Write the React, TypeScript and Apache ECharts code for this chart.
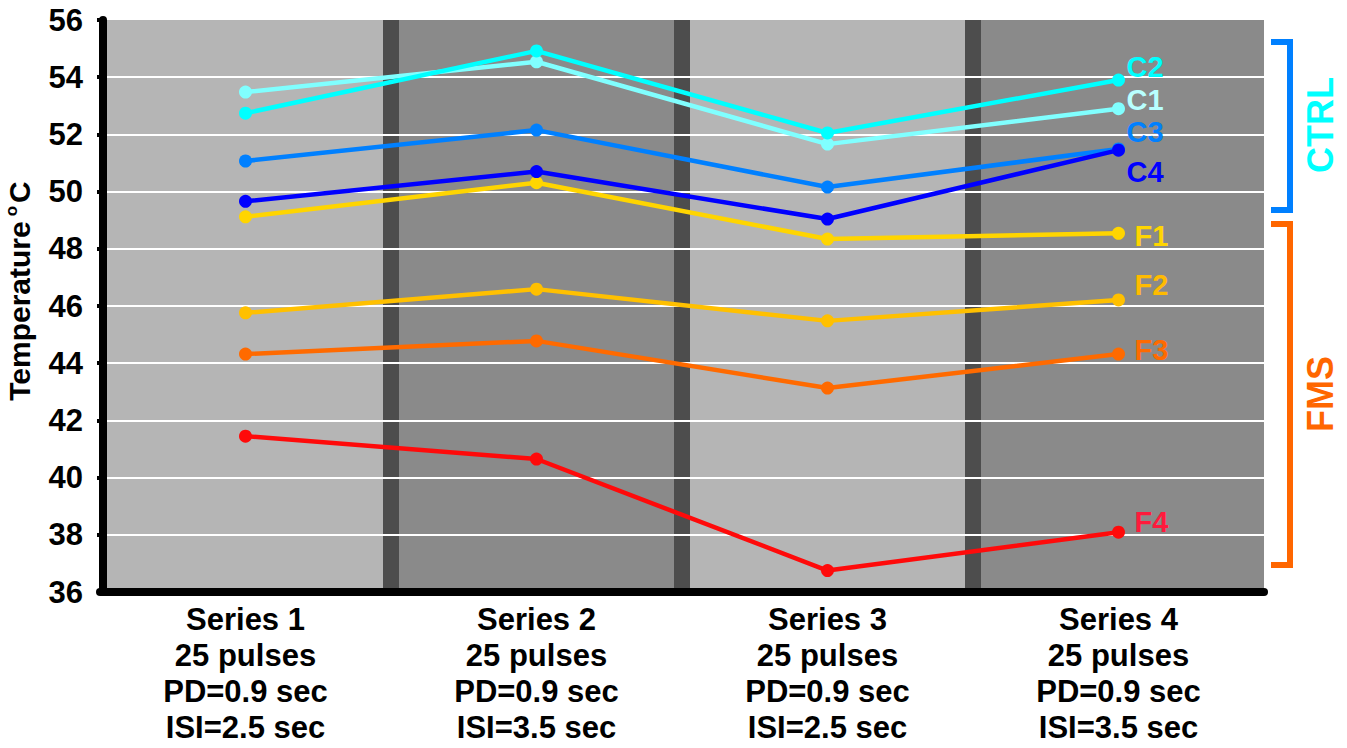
import React, { useEffect, useRef } from "react";
import * as echarts from "echarts";

const seriesTitles = ["Series 1", "Series 2", "Series 3", "Series 4"];
const pulseLabels = ["25 pulses", "25 pulses", "25 pulses", "25 pulses"];
const pdLabels = ["PD=0.9 sec", "PD=0.9 sec", "PD=0.9 sec", "PD=0.9 sec"];
const isiLabels = ["ISI=2.5 sec", "ISI=3.5 sec", "ISI=2.5 sec", "ISI=3.5 sec"];

const yTicks = { min: 36, max: 56, interval: 2 };

const C1 = [53.48, 54.54, 51.66, 52.9];
const C2 = [52.74, 54.92, 52.05, 53.9];
const C3 = [51.07, 52.15, 50.16, 51.49];
const C4 = [49.66, 50.7, 49.04, 51.45];
const F1 = [49.12, 50.31, 48.34, 48.54];
const F2 = [45.76, 46.59, 45.48, 46.21];
const F3 = [44.32, 44.78, 43.13, 44.32];
const F4 = [41.45, 40.65, 36.75, 38.09];

const FONT = "'Liberation Sans', Arial, sans-serif";

type Def = { name: string; data: number[]; color: string; labelColor: string; offset: [number, number] };

const defs: Def[] = [
  { name: "F4", data: F4, color: "#ff0a0a", labelColor: "#ff1a3c", offset: [8, -10] },
  { name: "F3", data: F3, color: "#ff6a00", labelColor: "#ff6a00", offset: [8, -4] },
  { name: "F2", data: F2, color: "#ffc000", labelColor: "#ffbb00", offset: [8, -15] },
  { name: "F1", data: F1, color: "#ffd500", labelColor: "#ffd500", offset: [8, 3] },
  { name: "C1", data: C1, color: "#80ffff", labelColor: "#b8ffff", offset: [0, -9] },
  { name: "C2", data: C2, color: "#00ffff", labelColor: "#00ffff", offset: [0, -13] },
  { name: "C3", data: C3, color: "#0080ff", labelColor: "#0080ff", offset: [0, -17] },
  { name: "C4", data: C4, color: "#0000ff", labelColor: "#0000ff", offset: [0, 22] },
];

export default function App() {
  const ref = useRef<HTMLDivElement>(null);

  useEffect(() => {
    if (!ref.current) return;
    const chart = echarts.init(ref.current, undefined, { renderer: "svg" });
    const categories = seriesTitles.map(
      (t, i) => `${t}\n${pulseLabels[i]}\n${pdLabels[i]}\n${isiLabels[i]}`
    );
    chart.setOption({
      animation: false,
      backgroundColor: "#ffffff",
      grid: { left: 100, right: 83, top: 20, bottom: 156, outerBoundsMode: "none" },
      xAxis: {
        type: "category",
        data: categories,
        boundaryGap: true,
        z: 0,
        axisLine: { show: true, onZero: false, lineStyle: { color: "#000", width: 8 } },
        axisTick: { show: false },
        axisLabel: {
          interval: 0,
          color: "#000",
          fontSize: 31,
          fontWeight: "bold",
          fontFamily: FONT,
          lineHeight: 36,
          margin: 9,
        },
        splitArea: { show: true, interval: 0, areaStyle: { color: ["#b5b5b5", "#8a8a8a"] } },
        splitLine: {
          show: true,
          interval: 0,
          showMinLine: false,
          showMaxLine: false,
          lineStyle: { color: "#4d4d4d", width: 16 },
        },
      },
      yAxis: {
        type: "value",
        min: yTicks.min,
        max: yTicks.max,
        interval: yTicks.interval,
        z: 1,
        offset: -3,
        name: "Temperature{sup|o}C",
        nameLocation: "middle",
        nameGap: 68,
        nameRotate: 90,
        nameTextStyle: {
          color: "#000",
          fontSize: 30,
          fontWeight: "bold",
          fontFamily: FONT,
          lineHeight: 32,
          padding: [0, 0, 0, 30],
          rich: {
            sup: {
              fontSize: 17,
              fontWeight: "bold",
              fontFamily: FONT,
              color: "#000",
              verticalAlign: "top",
              lineHeight: 32,
              padding: [0, 3, 0, 5],
            },
          },
        },
        axisLine: { show: true, lineStyle: { color: "#000", width: 8 } },
        axisTick: { show: true, length: 6, lineStyle: { color: "#000", width: 4 } },
        axisLabel: {
          color: "#000",
          fontSize: 31,
          fontWeight: "bold",
          fontFamily: FONT,
          margin: 20,
        },
        splitLine: {
          show: true,
          showMinLine: false,
          showMaxLine: false,
          lineStyle: { color: "#ffffff", width: 2 },
        },
      },
      series: defs.map((d) => ({
        type: "line",
        name: d.name,
        data: d.data,
        symbol: "circle",
        symbolSize: 13,
        z: 3,
        lineStyle: { color: d.color, width: 4.5 },
        itemStyle: { color: d.color },
        endLabel: {
          show: true,
          formatter: "{a}",
          distance: 8,
          offset: d.offset,
          color: d.labelColor,
          fontSize: 29,
          lineHeight: 24,
          fontWeight: "bold",
          fontFamily: FONT,
        },
      })),
      graphic: [
        {
          type: "polyline",
          shape: { points: [[1271, 42], [1290, 42], [1290, 210], [1271, 210]] },
          style: { stroke: "#0080ff", lineWidth: 6, fill: null, lineJoin: "miter" },
        },
        {
          type: "polyline",
          shape: { points: [[1271, 224], [1290, 224], [1290, 565], [1271, 565]] },
          style: { stroke: "#ff6600", lineWidth: 6, fill: null, lineJoin: "miter" },
        },
        {
          type: "text",
          x: 1320,
          y: 125,
          rotation: Math.PI / 2,
          style: {
            text: "CTRL",
            fill: "#00ffff",
            font: `bold 36px ${FONT}`,
            align: "center",
            verticalAlign: "middle",
          },
        },
        {
          type: "text",
          x: 1320,
          y: 394,
          rotation: Math.PI / 2,
          style: {
            text: "FMS",
            fill: "#ff6600",
            font: `bold 36px ${FONT}`,
            align: "center",
            verticalAlign: "middle",
          },
        },
      ],
    });
    return () => chart.dispose();
  }, []);

  return (
    <div
      ref={ref}
      style={{ position: "fixed", left: 0, top: 0, width: 1347, height: 748 }}
    />
  );
}
